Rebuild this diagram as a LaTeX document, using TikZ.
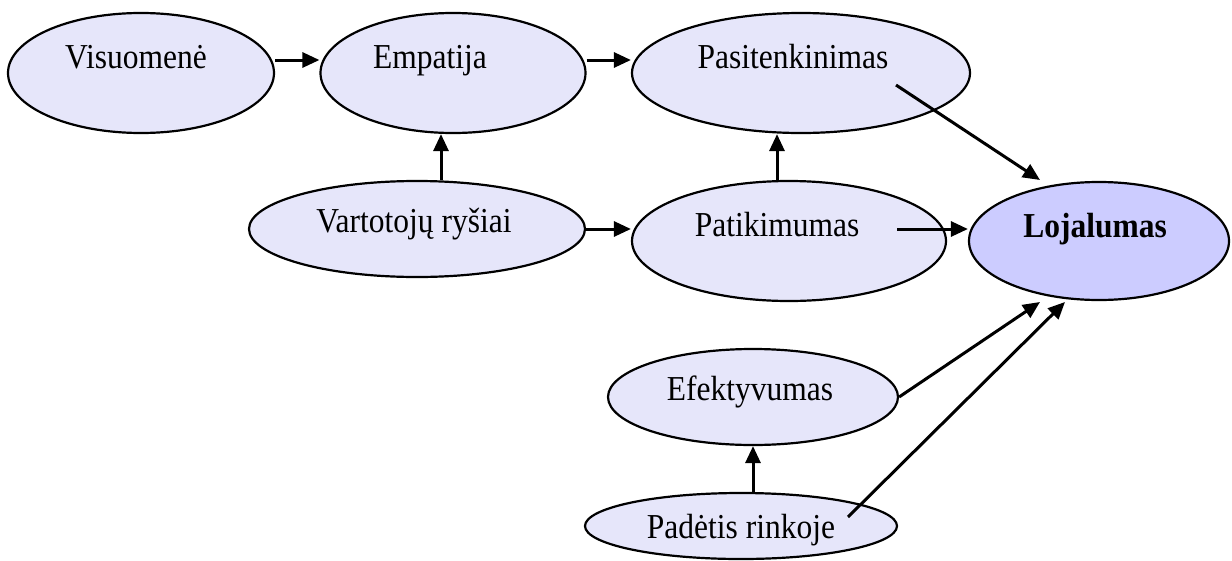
\documentclass[tikz,border=0pt]{standalone}
\usepackage{fontspec}
\setmainfont{Liberation Serif}[FakeStretch=0.9]
\usetikzlibrary{shapes.geometric,arrows.meta,calc}
\definecolor{ovalfill}{HTML}{E6E6FA}
\definecolor{keyfill}{HTML}{CCCCFF}
\begin{document}
\begin{tikzpicture}[x=1pt,y=1pt,
  oval/.style={ellipse,draw=black,line width=2.2pt,fill=ovalfill,inner sep=0pt},
  lbl/.style={anchor=base,inner sep=0pt,font=\fontsize{35}{40}\selectfont},
  arr/.style={line width=3pt,-{Triangle[length=17pt,width=15pt]}}]
\useasboundingbox (0,0) rectangle (1232,-560);

% ovals
\node[oval,minimum width=266pt,minimum height=120pt] (vis) at (141,-73) {};
\node[oval,minimum width=265pt,minimum height=120pt] (emp) at (453,-73) {};
\node[oval,minimum width=338pt,minimum height=120pt] (pas) at (801,-73) {};
\node[oval,minimum width=336pt,minimum height=96pt]  (var) at (417,-229) {};
\node[oval,minimum width=314pt,minimum height=120pt] (pat) at (789,-241) {};
\node[oval,minimum width=260pt,minimum height=118pt,fill=keyfill] (loj) at (1099,-241) {};
\node[oval,minimum width=290pt,minimum height=96pt]  (efe) at (753,-397) {};
\node[oval,minimum width=312pt,minimum height=66pt]  (pad) at (741,-526) {};

% labels, set above the oval centres
\node[lbl] (tvis) at (136,-68) {Visuomenė};
\node[lbl] (temp) at (430,-68) {Empatija};
\node[lbl] (tpas) at (793,-68) {Pasitenkinimas};
\node[lbl] (tvar) at (414,-232) {Vartotojų ryšiai};
\node[lbl] (tpat) at (777,-236) {Patikimumas};
\node[lbl,font=\fontsize{35}{40}\selectfont\bfseries] (tloj) at (1095,-237) {Lojalumas};
\node[lbl] (tefe) at (750,-400) {Efektyvumas};
\node[lbl] (tpad) at (741,-538) {Padėtis rinkoje};

% connectors
\draw[arr] ([yshift=13pt]vis.east) -- ([yshift=13pt]emp.west);
\draw[arr] ([yshift=13pt]emp.east) -- ([yshift=13pt]pas.west);
\draw[arr] ([xshift=24pt]var.north) -- ([xshift=-12pt]emp.south);
\draw[arr] (var.east) -- ([yshift=12pt]pat.west);
\draw[arr] ([xshift=-12pt]pat.north) -- ([xshift=-24pt]pas.south);
\draw[arr] ($(pat.center)+(108,12)$) -- ([yshift=12pt]loj.west);
\draw[arr] ($(pas.center)+(95,-12)$) -- ($(loj.center)+(-59,61)$);
\draw[arr] (efe.east) -- ($(loj.center)+(-59,-61)$);
\draw[arr] ($(pad.center)+(107,9)$) -- ($(loj.center)+(-34,-61)$);
\draw[arr] ([xshift=12pt]pad.north) -- (efe.south);
\end{tikzpicture}
\end{document}
